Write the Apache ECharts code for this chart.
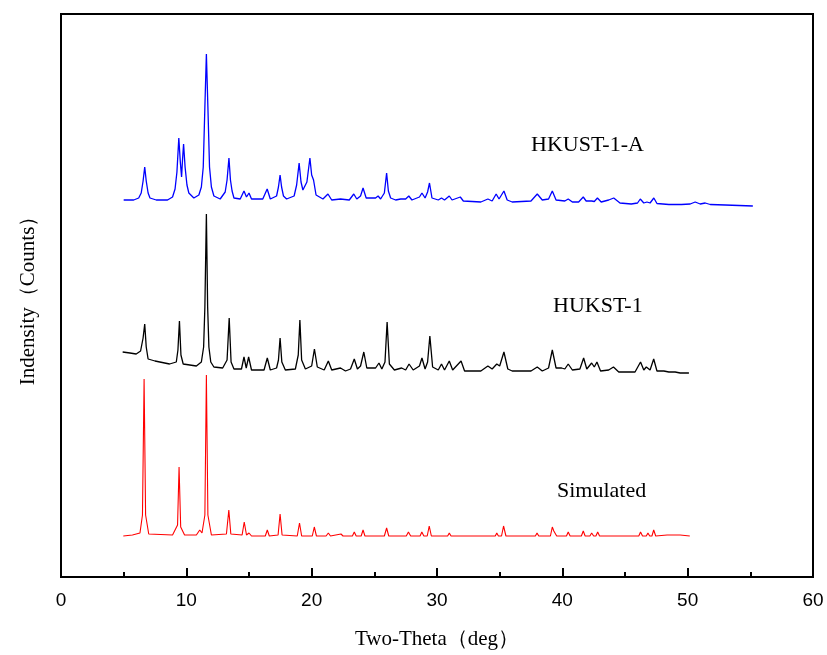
<!DOCTYPE html>
<html>
<head>
<meta charset="utf-8">
<script src="https://cdn.jsdelivr.net/npm/echarts@6/dist/echarts.min.js"></script>
<style>html,body{margin:0;padding:0;background:#fff}#c{width:827px;height:655px}</style>
</head>
<body>
<div id="c"></div>
<script>
var xTicks = [0, 10, 20, 30, 40, 50, 60];
var seriesNames = ['HKUST-1-A', 'HUKST-1', 'Simulated'];

var hkust1A = [
[5.0,377],[5.8,377],[6.2,379],[6.4,384],[6.55,396],[6.68,410],[6.8,396],[6.95,384],[7.1,379],[7.6,377],[8.5,377],[8.9,380],
[9.1,388],[9.25,405],[9.4,439],[9.52,415],[9.62,400],[9.7,418],[9.78,433],[9.9,410],[10.05,392],[10.2,384],[10.6,379],[11.0,382],[11.2,390],[11.35,410],
[11.48,470],[11.6,523],[11.72,470],[11.85,410],[12.0,390],[12.2,381],[12.7,378],[13.1,385],[13.25,397],[13.4,419],[13.52,397],[13.65,386],
[13.8,379],[14.3,378],[14.6,386],[14.8,380],[15.0,384],[15.2,378],[16.1,378],[16.45,388],[16.7,378],[17.2,381],
[17.35,390],[17.48,402],[17.6,390],[17.75,381],[18.0,378],[18.6,381],[18.8,392],[19.0,414],[19.15,395],[19.3,387],[19.45,385],[19.62,395],[19.86,419],
[20.0,402],[20.15,397],[20.35,382],[20.9,378],[21.3,383],[21.6,377],[22.3,378],[23.0,377],[23.36,383],[23.6,378],
[23.9,381],[24.1,389],[24.35,379],[25.1,379],[25.3,381],[25.5,378],[25.8,384],[25.98,404],[26.12,386],[26.3,379],[26.7,377],
[27.1,378],[27.5,378],[27.75,381],[28.0,377],[28.6,380],[28.8,384],[29.05,379],[29.25,385],[29.4,394],[29.6,379],
[30.1,377],[30.36,379],[30.6,377],[30.98,381],[31.2,377],[31.86,380],[32.1,376],[33.5,375],[34.06,378],[34.4,376],
[34.72,383],[34.95,378],[35.34,386],[35.6,377],[36.0,375],[37.5,376],[38.0,383],[38.4,377],[38.9,378],[39.2,386],
[39.5,377],[40.2,376],[40.47,378],[40.8,375],[41.3,375],[41.67,380],[41.9,376],[42.34,376],[42.55,375.5],[42.8,379],
[43.1,375],[43.7,377],[44.1,379],[44.6,374],[45.5,373],[46.0,374],[46.22,378],[46.5,374],[46.75,375],[47.0,374],
[47.3,379],[47.55,373.5],[48.5,372.5],[49.5,372.5],[50.2,373],[50.6,375],[51.0,373],[51.4,374],[51.8,372.5],[53.0,372],
[55.2,371]
];

var hukst1 = [
[4.92,225],[5.5,224],[6.0,223],[6.35,226],[6.55,239],[6.68,253],[6.8,230],[6.95,218],[7.5,216],[8.66,213],
[9.2,215],[9.33,227],[9.45,256],[9.57,222],[9.75,213],[10.8,211],[11.2,215],[11.38,230],[11.48,270],[11.6,363],[11.7,270],[11.8,230],
[11.95,215],[12.2,210],[12.9,209],[13.25,217],[13.42,259],[13.57,215],[13.8,208],[14.4,208],[14.6,220],[14.78,209],
[14.97,220],[15.2,207],[16.2,207],[16.46,219],[16.7,207],[17.2,209],[17.35,217],[17.48,239],[17.62,215],[17.9,207],
[18.7,208],[18.93,222],[19.06,257],[19.2,217],[19.5,208],[20.0,211],[20.22,228],[20.45,210],[21.0,207],[21.33,216],
[21.6,207],[22.3,209],[22.7,206],[23.1,208],[23.4,218],[23.65,208],[23.9,211],[24.16,225],[24.4,209],[25.1,209],
[25.37,214],[25.6,208],[25.85,215],[26.02,255],[26.2,213],[26.6,207],[27.18,209],[27.5,207],[27.77,213],[28.1,207],
[28.6,211],[28.8,219],[29.05,208],[29.25,215],[29.43,241],[29.65,210],[30.1,207],[30.36,213],[30.6,207],[30.98,216],
[31.25,207],[31.92,216],[32.2,206],[33.5,206],[34.06,211],[34.4,208],[34.77,213],[35.0,211],[35.34,225],[35.65,208],
[36.0,206],[37.5,206],[38.0,210],[38.4,206],[38.9,209],[39.2,227],[39.5,209],[39.94,209],[40.2,208],[40.47,213],
[40.8,207],[41.4,208],[41.7,219],[41.95,208],[42.34,214],[42.55,210],[42.76,215],[43.05,206],[43.7,207],[44.08,210],
[44.5,205],[45.8,205],[46.24,215],[46.5,207],[46.7,210],[47.0,207],[47.29,218],[47.55,206],[47.7,205],[48.1,206],
[48.5,205],[49.0,205],[49.4,204],[50.1,204]
];

var simulated = [
[4.97,41],[5.7,42],[6.3,44],[6.5,62],[6.63,198],[6.75,62],[7.0,43],[8.9,42],[9.3,52],[9.42,110],
[9.55,50],[9.86,42],[10.8,42],[11.07,47],[11.25,44],[11.48,62],[11.6,202],[11.72,62],[12.0,42],[13.2,43],
[13.39,67],[13.55,43],[14.45,42],[14.62,55],[14.8,42],[15.0,44],[15.2,41],[16.3,41],[16.46,47],[16.62,41],
[17.32,42],[17.48,63],[17.64,42],[18.85,41],[19.03,54],[19.2,41],[20.05,41],[20.21,50],[20.38,41],[21.15,41],
[21.33,44],[21.5,41],[22.34,43],[22.5,41],[23.25,41],[23.4,45],[23.55,41],[23.95,41],[24.1,47],[24.25,41],
[25.8,41],[25.98,49],[26.15,41],[27.55,41],[27.72,45],[27.9,41],[28.65,41],[28.79,45],[28.95,41],[29.22,41],
[29.38,51],[29.55,41],[30.85,41],[30.98,44],[31.12,41],[31.8,41],[31.92,43],[32.05,41],[33.95,41],[34.06,43],
[34.2,41],[34.65,41],[34.77,44],[34.9,41],[35.15,41],[35.31,51],[35.5,41],[36.65,41],[36.8,43],[36.95,41],
[37.85,41],[37.98,44],[38.12,41],[39.05,41],[39.2,50],[39.32,46],[39.4,45],[39.55,41],[40.33,41],[40.47,45],
[40.62,41],[41.52,41],[41.67,46],[41.82,41],[42.2,41],[42.34,44],[42.5,41],[42.68,41],[42.82,45],[42.97,41],
[44.0,41],[44.15,43],[44.3,41],[46.1,41],[46.24,45],[46.4,41],[46.7,41],[46.83,44],[46.97,41],[47.15,41],
[47.29,47],[47.45,41],[48.36,42],[49.0,42],[49.4,42],[50.17,41]
];

var chart = echarts.init(document.getElementById('c'), null, {renderer: 'canvas'});
var serif = '"Liberation Serif", "Times New Roman", serif';
var option = {
  animation: false,
  backgroundColor: '#fff',
  grid: {left: 61, right: 14, top: 14, bottom: 78, containLabel: false, outerBoundsMode: 'none',
         show: true, borderColor: '#000', borderWidth: 2, backgroundColor: 'transparent'},
  xAxis: {
    type: 'value', min: xTicks[0], max: xTicks[xTicks.length - 1], interval: 10,
    name: 'Two-Theta（deg）', nameLocation: 'middle', nameGap: 52,
    nameTextStyle: {fontFamily: serif, fontSize: 21, color: '#000'},
    axisLine: {show: true, lineStyle: {color: '#000', width: 2}},
    axisTick: {show: true, inside: true, length: 9, lineStyle: {color: '#000', width: 2}},
    minorTick: {show: true, splitNumber: 2, length: 5, lineStyle: {color: '#000', width: 2}},
    axisLabel: {fontFamily: '"Liberation Sans Narrow", "Liberation Sans", Arial, sans-serif', fontSize: 19, color: '#000', margin: 14},
    splitLine: {show: false}
  },
  yAxis: {
    type: 'value', min: 0, max: 563,
    name: 'Indensity（Counts）', nameLocation: 'middle', nameGap: 22,
    nameTextStyle: {fontFamily: serif, fontSize: 21, color: '#000'},
    axisLine: {show: true, lineStyle: {color: '#000', width: 2}},
    axisTick: {show: false}, axisLabel: {show: false}, splitLine: {show: false}
  },
  series: [
    {name: seriesNames[0], type: 'line', data: hkust1A, showSymbol: false, lineStyle: {color: '#0000ff', width: 1.3}, itemStyle: {color: '#0000ff'}, z: 3},
    {name: seriesNames[1], type: 'line', data: hukst1, showSymbol: false, lineStyle: {color: '#000000', width: 1.3}, itemStyle: {color: '#000'}, z: 3},
    {name: seriesNames[2], type: 'line', data: simulated, showSymbol: false, lineStyle: {color: '#ff0000', width: 1.1}, itemStyle: {color: '#f00'}, z: 3}
  ],
  graphic: [
    {type: 'text', left: 531, top: 134, style: {text: seriesNames[0], font: '22px ' + serif, fill: '#000'}},
    {type: 'text', left: 553, top: 295, style: {text: seriesNames[1], font: '22px ' + serif, fill: '#000'}},
    {type: 'text', left: 557, top: 480, style: {text: seriesNames[2], font: '22px ' + serif, fill: '#000'}}
  ]
};
chart.setOption(option);
</script>
</body>
</html>
